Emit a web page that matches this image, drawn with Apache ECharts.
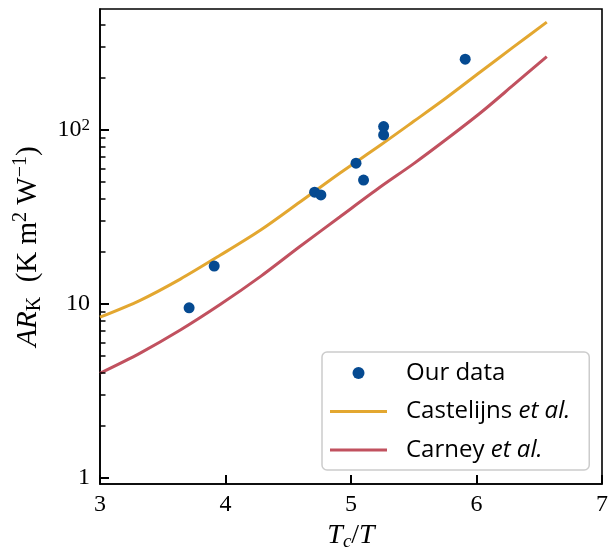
<!DOCTYPE html>
<html><head><meta charset="utf-8">
<script src="https://cdn.jsdelivr.net/npm/echarts@6/dist/echarts.min.js"></script>
<style>html,body{margin:0;padding:0;background:#fff}#c{width:609px;height:551px}</style>
</head><body><div id="c"></div>
<script>
// Measured data (T_c/T, AR_K)
const dataT = [3.71, 3.91, 4.71, 4.76, 5.04, 5.10, 5.26, 5.26, 5.91];
const dataAR = [9.5, 16.5, 43.9, 42.3, 64.4, 51.5, 104.5, 93.6, 255];
// Model curves
const curveT = [3.00, 3.32, 3.64, 3.96, 4.28, 4.59, 4.91, 5.23, 5.50, 5.76, 6.03, 6.29, 6.56];
const castelijns = [8.4, 10.5, 13.9, 19.1, 26.6, 38.4, 56.4, 81.3, 112, 153, 215, 298, 416];
const carney = [4.00, 5.22, 7.08, 9.95, 14.4, 21.3, 31.6, 46.8, 64.0, 88.3, 125, 180, 264];
// Axes
const xTicks = [3, 4, 5, 6, 7];
const yMajorTicks = [1, 10, 100];
const yMinorTicks = [2, 3, 4, 5, 6, 7, 8, 9, 20, 30, 40, 50, 60, 70, 80, 90, 200, 300, 400];
const yRange = [0.924, 495];
const seriesNames = ['Our data', 'Castelijns et al.', 'Carney et al.'];

const SERIF = '"Liberation Serif", "DejaVu Serif", serif';
const SANS = '"Open Sans", "DejaVu Sans", sans-serif';
const BLUE = '#054A91', GOLD = '#E3A730', RED = '#C1515F';
const LINE_ICON = 'path://M0,0H57V3H0Z';

const chart = echarts.init(document.getElementById('c'), null, {renderer: 'canvas'});

function yLabel(v) {
  const r = Math.round(Math.log10(v));
  if (r >= 2) return '{n|10}{sup|' + r + '}';
  return '{n|' + Math.round(v) + '}';
}

const option = {
  animation: false,
  backgroundColor: '#fff',
  grid: {left: 100, right: 7, top: 9, bottom: 67, outerBoundsMode: 'none', containLabel: false,
         show: true, borderColor: '#000', borderWidth: 1.6, backgroundColor: 'transparent'},
  xAxis: {
    type: 'value', min: xTicks[0], max: xTicks[xTicks.length - 1], interval: 1,
    axisLine: {show: true, lineStyle: {color: '#000', width: 1.6}},
    axisTick: {show: true, inside: true, length: 9, lineStyle: {color: '#000', width: 2}},
    splitLine: {show: false},
    axisLabel: {color: '#000', fontFamily: SERIF, fontSize: 24, margin: 9},
    name: '{i|T}{sub|c}{n|/}{i|T}',
    nameLocation: 'middle', nameGap: 22,
    nameTextStyle: {
      rich: {
        i: {fontFamily: SERIF, fontStyle: 'italic', fontSize: 28, color: '#000', lineHeight: 32},
        n: {fontFamily: SERIF, fontSize: 28, color: '#000', lineHeight: 32},
        sub: {fontFamily: SERIF, fontStyle: 'italic', fontSize: 19, color: '#000', verticalAlign: 'bottom', lineHeight: 24}
      }
    }
  },
  yAxis: {
    type: 'log', logBase: 10, min: yRange[0], max: yRange[1],
    axisLine: {show: true, lineStyle: {color: '#000', width: 1.6}},
    axisTick: {show: true, inside: true, length: 9, customValues: yMajorTicks, lineStyle: {color: '#000', width: 2}},
    splitLine: {show: false},
    axisLabel: {
      margin: 10, formatter: yLabel, customValues: yMajorTicks,
      rich: {
        n: {fontFamily: SERIF, fontSize: 24, color: '#000', lineHeight: 26},
        sup: {fontFamily: SERIF, fontSize: 17, color: '#000', verticalAlign: 'top', lineHeight: 18}
      }
    },
    name: '{i|AR}{sub|K}{n|  (K m}{sup|2}{n| W}{sup|−1}{n|)}',
    nameLocation: 'middle', nameRotate: 90, nameGap: 55,
    nameTextStyle: {
      rich: {
        i: {fontFamily: SERIF, fontStyle: 'italic', fontSize: 29, color: '#000', lineHeight: 34},
        n: {fontFamily: SERIF, fontSize: 29, color: '#000', lineHeight: 34},
        sub: {fontFamily: SERIF, fontSize: 20, color: '#000', verticalAlign: 'bottom', lineHeight: 24},
        sup: {fontFamily: SERIF, fontSize: 20, color: '#000', verticalAlign: 'top', lineHeight: 24}
      }
    }
  },
  legend: {
    data: [
      {name: seriesNames[0], icon: 'circle'},
      {name: seriesNames[1], icon: LINE_ICON},
      {name: seriesNames[2], icon: LINE_ICON}
    ],
    orient: 'vertical', left: 322, top: 352,
    selectedMode: false,
    itemWidth: 57, itemHeight: 12, itemGap: 14.5,
    padding: [9, 19, 8, 8],
    backgroundColor: 'rgba(255,255,255,0.85)',
    borderColor: '#cccccc', borderWidth: 1.5, borderRadius: 5,
    formatter: function (name) {
      const k = name.indexOf(' et al.');
      if (k < 0) return '{g| }{n|' + name + '}';
      return '{g| }{n|' + name.slice(0, k) + ' }{i|et al.}';
    },
    textStyle: {
      color: '#000',
      rich: {
        g: {width: 14, fontSize: 22, fontFamily: SANS, lineHeight: 24},
        n: {fontFamily: SANS, fontSize: 24, color: '#000', lineHeight: 24},
        i: {fontFamily: SANS, fontStyle: 'italic', fontSize: 24, color: '#000', lineHeight: 24}
      }
    }
  },
  series: [
    {
      name: seriesNames[1], type: 'line', data: curveT.map((t, i) => [t, castelijns[i]]),
      symbol: 'none', smooth: 0.3, lineStyle: {color: GOLD, width: 3}, itemStyle: {color: GOLD}, z: 2
    },
    {
      name: seriesNames[2], type: 'line', data: curveT.map((t, i) => [t, carney[i]]),
      symbol: 'none', smooth: 0.3, lineStyle: {color: RED, width: 3}, itemStyle: {color: RED}, z: 2
    },
    {
      name: seriesNames[0], type: 'scatter', data: dataT.map((t, i) => [t, dataAR[i]]),
      symbol: 'circle', symbolSize: 11, itemStyle: {color: BLUE, opacity: 1}, z: 4
    }
  ]
};
chart.setOption(option);

// Minor log ticks on the y axis, positioned through the axis scale
const minorTickGraphics = [];
yMinorTicks.forEach(function (v) {
  const p = chart.convertToPixel({gridIndex: 0}, [xTicks[0], v]);
  if (!p) return;
  const y = Math.round(p[1]);
  minorTickGraphics.push({
    type: 'rect', z: 100, silent: true,
    shape: {x: p[0], y: y - 0.75, width: 5.5, height: 1.5},
    style: {fill: '#000'}
  });
});
chart.setOption({graphic: minorTickGraphics});
</script>
</body></html>
